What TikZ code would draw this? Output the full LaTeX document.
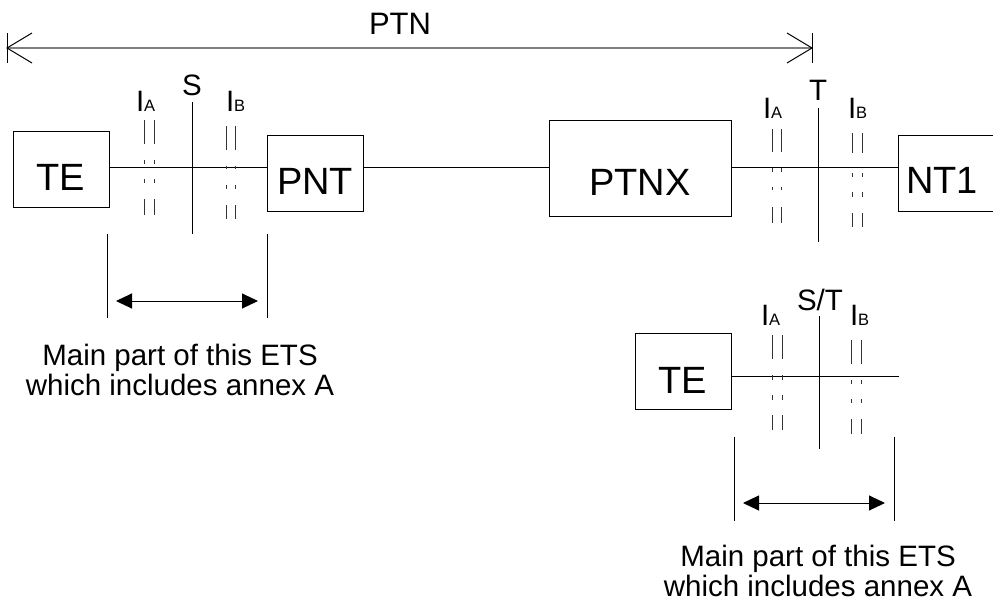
\documentclass[tikz,border=0pt]{standalone}
\usepackage{fontspec}
\setmainfont{Liberation Sans}
\usetikzlibrary{arrows.meta}
\newcommand\subA{{\fontsize{16.5}{16.5}\selectfont A}}
\newcommand\subB{{\fontsize{16.5}{16.5}\selectfont B}}
\begin{document}
\begin{tikzpicture}[x=1pt,y=-1pt,line width=1pt,
  box/.style={draw, line width=1pt, inner sep=0pt, text depth=0pt, font=\fontsize{38}{38}\selectfont},
  lbl/.style={inner sep=0pt, font=\fontsize{29.5}{29.5}\selectfont},
  note/.style={inner sep=0pt, align=center, font=\fontsize{29.5}{29.5}\selectfont},
  iface/.style={line width=0.8pt, black!80},
  refline/.style={line width=1pt},
  dimline/.style={line width=1pt, {Triangle[length=16pt,width=15pt]}-{Triangle[length=16pt,width=15pt]}, shorten <=9pt, shorten >=9pt},
  ext/.style={line width=1pt}
]
\useasboundingbox (0,0) rectangle (993,611);

% PTN dimension
\coordinate (ptnL) at (7,48);
\coordinate (ptnR) at (812,48);
\draw[gray, line width=2.5pt] (ptnL) -- (ptnR);
\draw (ptnL) ++(0,-15) -- ++(0,30);
\draw (ptnR) ++(0,-15) -- ++(0,30);
\draw (ptnL) ++(25,-15) -- (ptnL) -- ++(25,15);
\draw (ptnR) ++(-25,-15) -- (ptnR) -- ++(-25,15);
\node[inner sep=0pt, anchor=base, font=\fontsize{31}{31}\selectfont] (ptn) at (400,34) {PTN};

% boxes
\node[box, minimum width=96pt, minimum height=76pt, text height=42pt] (te1) at (61,169) {TE};
\node[box, minimum width=96pt, minimum height=76pt, text height=42pt] (pnt) at (315,173) {PNT};
\node[box, minimum width=182pt, minimum height=96pt, text height=54pt] (ptnx) at (640,168) {PTNX};
\node[box, draw=none, minimum width=86pt, minimum height=75pt, text height=39pt] (nt1) at (942,173.5) {NT1};
\draw ([xshift=8pt]nt1.north east) -- (nt1.north west) -- (nt1.south west) -- ([xshift=8pt]nt1.south east);
\node[box, minimum width=96pt, minimum height=76pt, text height=44pt] (te2) at (683,371) {TE};

% bus lines
\coordinate (bus) at (0,167);
\coordinate (bus2) at (0,376);
\coordinate (bus2end) at (899,376);
\draw (te1.east |- bus) -- (pnt.west |- bus);
\draw (pnt.east |- bus) -- (ptnx.west |- bus);
\draw (ptnx.east |- bus) -- (nt1.west |- bus);
\draw (te2.east |- bus2) -- (bus2end);

% reference points
\coordinate (sTop) at (192,102); \coordinate (sBot) at (192,234);
\coordinate (tTop) at (818,108); \coordinate (tBot) at (818,242);
\coordinate (stTop) at (819,316); \coordinate (stBot) at (819,449);
\draw[refline] (sTop) -- (sBot);
\draw[refline] (tTop) -- (tBot);
\draw[refline] (stTop) -- (stBot);
\node[lbl, anchor=base] (sl) at (192,95) {S};
\node[lbl, anchor=base] (tl) at (818,100) {T};
\node[lbl, anchor=base] (stl) at (820,310) {S/T};

% interface marks
\foreach \xa/\xb/\ya/\yb/\yc/\yd/\ye/\yf/\yg/\yh in {
  144/154/120/144/160/164/179/183/199/215,
  226/235/126/150/166/169/185/189/205/219,
  772/781/129/152/168/172/187/190/207/223,
  852/862/133/153/173/177/192/197/213/227,
  772/782/335/359/375/380/395/400/415/430,
  851/861/340/364/380/384/399/403/419/434}{
  \foreach \xx in {\xa,\xb}{
    \draw[iface] (\xx,\ya) -- (\xx,\yb) (\xx,\yc) -- (\xx,\yd) (\xx,\ye) -- (\xx,\yf) (\xx,\yg) -- (\xx,\yh);
  }
}
\node[lbl, anchor=base west] (ia1) at (135.5,111) {I\subA};
\node[lbl, anchor=base west] (ib1) at (225.5,111) {I\subB};
\node[lbl, anchor=base west] (ia2) at (762.5,118) {I\subA};
\node[lbl, anchor=base west] (ib2) at (847.5,118) {I\subB};
\node[lbl, anchor=base west] (ia3) at (760.5,325) {I\subA};
\node[lbl, anchor=base west] (ib3) at (849.5,325) {I\subB};

% dimension 1
\coordinate (d1a) at (107,234); \coordinate (d1b) at (107,318);
\coordinate (d1c) at (267,234); \coordinate (d1d) at (267,318);
\draw[ext] (d1a) -- (d1b);
\draw[ext] (d1c) -- (d1d);
\coordinate (d1l) at (107,301); \coordinate (d1r) at (267,301);
\draw[dimline] (d1l) -- (d1r);
\node[note] (n1) at (180,370) {Main part of this ETS\\which includes annex A};

% dimension 2
\coordinate (d2a) at (734,437); \coordinate (d2b) at (734,521);
\coordinate (d2c) at (894,437); \coordinate (d2d) at (894,521);
\draw[ext] (d2a) -- (d2b);
\draw[ext] (d2c) -- (d2d);
\coordinate (d2l) at (734,503); \coordinate (d2r) at (894,503);
\draw[dimline] (d2l) -- (d2r);
\node[note] (n2) at (818,571) {Main part of this ETS\\which includes annex A};
\end{tikzpicture}
\end{document}
